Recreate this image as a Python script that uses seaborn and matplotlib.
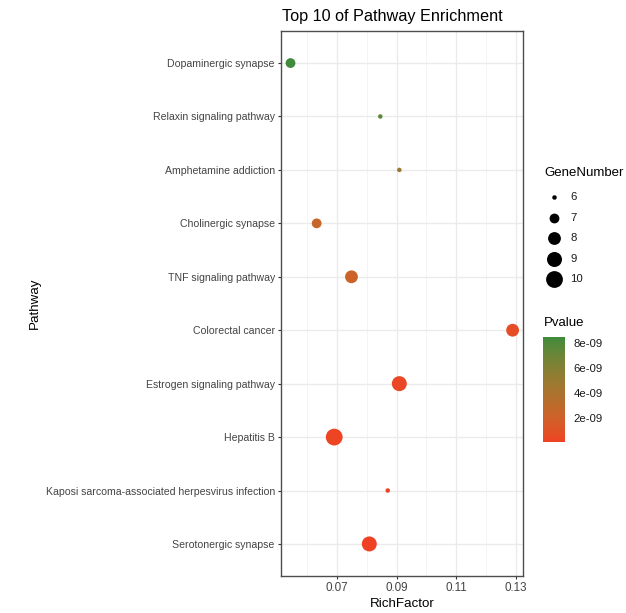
import numpy as np
import pandas as pd
import matplotlib
matplotlib.use("Agg")
import matplotlib.pyplot as plt
from matplotlib.colors import ListedColormap, Normalize, to_rgb
import seaborn as sns

# Enriched pathways, listed from the bottom row to the top row
pathways = [
    "Serotonergic synapse",
    "Kaposi sarcoma-associated herpesvirus infection",
    "Hepatitis B",
    "Estrogen signaling pathway",
    "Colorectal cancer",
    "TNF signaling pathway",
    "Cholinergic synapse",
    "Amphetamine addiction",
    "Relaxin signaling pathway",
    "Dopaminergic synapse",
]
rich_factor = [0.0808, 0.0870, 0.0690, 0.0909, 0.1290, 0.0748, 0.0631, 0.0909, 0.0845, 0.0543]
gene_number = [9, 6, 10, 9, 8, 8, 7, 6, 6, 7]
pvalue = [5e-11, 1.2e-10, 2.0e-10, 3.5e-10, 6.0e-10, 2.2e-09, 2.5e-09, 5.0e-09, 7.6e-09, 8.5e-09]

x_ticks = [0.07, 0.09, 0.11, 0.13]
pvalue_ticks = [2e-09, 4e-09, 6e-09, 8e-09]
size_levels = [6, 7, 8, 9, 10]

df = pd.DataFrame({
    "Pathway": pathways,
    "RichFactor": rich_factor,
    "GeneNumber": gene_number,
    "Pvalue": pvalue,
})

# ---- red -> green gradient interpolated in CIELAB -------------------------
def _srgb_to_lab(c):
    c = np.asarray(c, float)
    lin = np.where(c <= 0.04045, c / 12.92, ((c + 0.055) / 1.055) ** 2.4)
    M = np.array([[0.4124, 0.3576, 0.1805],
                  [0.2126, 0.7152, 0.0722],
                  [0.0193, 0.1192, 0.9505]])
    xyz = M @ lin / np.array([0.95047, 1.0, 1.08883])
    f = np.where(xyz > 0.008856, np.cbrt(xyz), 7.787 * xyz + 16 / 116)
    return np.array([116 * f[1] - 16, 500 * (f[0] - f[1]), 200 * (f[1] - f[2])])


def _lab_to_srgb(lab):
    L, a, b = lab
    fy = (L + 16) / 116
    fx = fy + a / 500
    fz = fy - b / 200
    f = np.array([fx, fy, fz])
    xyz = np.where(f ** 3 > 0.008856, f ** 3, (f - 16 / 116) / 7.787)
    xyz = xyz * np.array([0.95047, 1.0, 1.08883])
    Minv = np.array([[3.2406, -1.5372, -0.4986],
                     [-0.9689, 1.8758, 0.0415],
                     [0.0557, -0.2040, 1.0570]])
    lin = np.clip(Minv @ xyz, 0, 1)
    c = np.where(lin <= 0.0031308, 12.92 * lin, 1.055 * lin ** (1 / 2.4) - 0.055)
    return np.clip(c, 0, 1)


low_col, high_col = "#EF4224", "#3E8B3C"
lab_lo, lab_hi = _srgb_to_lab(to_rgb(low_col)), _srgb_to_lab(to_rgb(high_col))
ramp = [_lab_to_srgb(lab_lo + t * (lab_hi - lab_lo)) for t in np.linspace(0, 1, 256)]
cmap = ListedColormap(ramp)
pnorm = Normalize(vmin=min(pvalue), vmax=max(pvalue))

# marker areas (pt^2) for each gene count
diam_px = {6: 4.5, 7: 9.8, 8: 12.8, 9: 15.0, 10: 16.8}
marker_area = {k: (v * 0.72) ** 2 for k, v in diam_px.items()}

# ---- figure --------------------------------------------------------------
sns.set_theme(style="white")
plt.rcParams["font.family"] = ["Liberation Sans", "DejaVu Sans"]

W, H = 626, 613
fig = plt.figure(figsize=(W / 100, H / 100), dpi=100, facecolor="white")
L, R, T, B = 281, 523, 31, 576
ax = fig.add_axes([L / W, 1 - B / H, (R - L) / W, (B - T) / H])
ax.set_facecolor("white")

sns.scatterplot(
    data=df, x="RichFactor", y="Pathway",
    hue="Pvalue", palette=cmap, hue_norm=pnorm,
    size="GeneNumber", sizes=marker_area,
    linewidth=0, alpha=1, legend=False, ax=ax, zorder=3,
)

ax.set_xlim(0.0511, 0.1325)
ax.set_ylim(-0.6, len(pathways) - 0.4)
ax.set_xticks(x_ticks)
ax.set_xticklabels([f"{v:g}" for v in x_ticks])
ax.set_xticks([0.06, 0.08, 0.10, 0.12], minor=True)
ax.grid(True, which="major", color="#EBEBEB", linewidth=1.0, zorder=0)
ax.grid(True, which="minor", axis="x", color="#F2F2F2", linewidth=0.6, zorder=0)
ax.set_axisbelow(True)
for s in ax.spines.values():
    s.set_color("#4D4D4D")
    s.set_linewidth(1.0)
ax.tick_params(axis="both", which="major", length=2.5, width=0.8, color="#333333",
               labelcolor="#444444", pad=2, left=True, bottom=True)
ax.tick_params(axis="y", which="major", labelsize=7.6)
ax.tick_params(axis="x", which="major", labelsize=8.4)
ax.tick_params(axis="x", which="minor", length=0)

ax.set_xlabel("RichFactor", fontsize=9.6, color="black", labelpad=3)
ax.set_ylabel("Pathway", fontsize=9.6, color="black")
ax.yaxis.set_label_coords((41 - L) / (R - L), 0.5)
fig.text(392 / W, 1 - 16.5 / H, "Top 10 of Pathway Enrichment", ha="center", va="center",
         fontsize=11.7, color="black")

# ---- GeneNumber legend ---------------------------------------------------
lax = fig.add_axes([0, 0, 1, 1], facecolor="none")
lax.set_xlim(0, W)
lax.set_ylim(H, 0)
lax.axis("off")
lax.text(544, 173, "GeneNumber", fontsize=9.5, va="center", ha="left", color="black")
for i, lvl in enumerate(size_levels):
    yy = 197.3 + i * 20.5
    lax.scatter([554], [yy], s=marker_area[lvl], color="black", linewidths=0)
    lax.text(570.5, yy, str(lvl), fontsize=8.2, va="center", ha="left", color="#1A1A1A")

# ---- Pvalue colourbar ----------------------------------------------------
lax.text(544, 323, "Pvalue", fontsize=9.5, va="center", ha="left", color="black")
cax = fig.add_axes([543 / W, 1 - 442 / H, 22 / W, 105 / H])
cb = fig.colorbar(plt.cm.ScalarMappable(norm=pnorm, cmap=cmap), cax=cax, ticks=pvalue_ticks)
cb.outline.set_visible(False)
cb.ax.set_yticklabels([f"{t:.0e}" for t in pvalue_ticks])
cb.ax.tick_params(direction="in", color="white", length=4, width=0.8, left=True, right=True,
                  labelsize=8.2, labelcolor="#1A1A1A", pad=6)

fig.savefig("out.png", dpi=100, facecolor="white")
